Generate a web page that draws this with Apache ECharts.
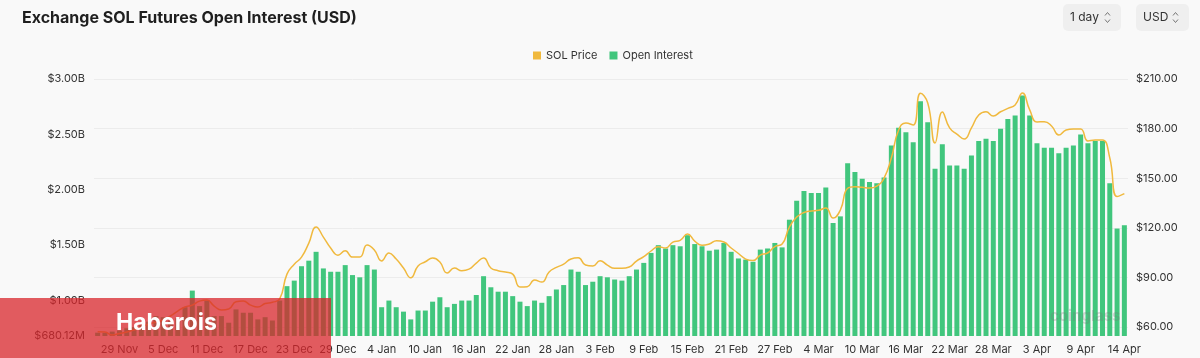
<!DOCTYPE html>
<html><head><meta charset="utf-8">
<script src="https://cdn.jsdelivr.net/npm/echarts@6/dist/echarts.min.js"></script>
<style>html,body{margin:0;padding:0;background:#f9f9f9;}#c{width:1200px;height:358px;}</style>
</head><body><div id="c"></div>
<script>
const categories = [
"26 Nov","27 Nov","28 Nov","29 Nov","30 Nov",
"1 Dec","2 Dec","3 Dec","4 Dec","5 Dec","6 Dec","7 Dec","8 Dec","9 Dec","10 Dec","11 Dec","12 Dec","13 Dec","14 Dec","15 Dec","16 Dec","17 Dec","18 Dec","19 Dec","20 Dec","21 Dec","22 Dec","23 Dec","24 Dec","25 Dec","26 Dec","27 Dec","28 Dec","29 Dec","30 Dec","31 Dec",
"1 Jan","2 Jan","3 Jan","4 Jan","5 Jan","6 Jan","7 Jan","8 Jan","9 Jan","10 Jan","11 Jan","12 Jan","13 Jan","14 Jan","15 Jan","16 Jan","17 Jan","18 Jan","19 Jan","20 Jan","21 Jan","22 Jan","23 Jan","24 Jan","25 Jan","26 Jan","27 Jan","28 Jan","29 Jan","30 Jan","31 Jan",
"1 Feb","2 Feb","3 Feb","4 Feb","5 Feb","6 Feb","7 Feb","8 Feb","9 Feb","10 Feb","11 Feb","12 Feb","13 Feb","14 Feb","15 Feb","16 Feb","17 Feb","18 Feb","19 Feb","20 Feb","21 Feb","22 Feb","23 Feb","24 Feb","25 Feb","26 Feb","27 Feb","28 Feb","29 Feb",
"1 Mar","2 Mar","3 Mar","4 Mar","5 Mar","6 Mar","7 Mar","8 Mar","9 Mar","10 Mar","11 Mar","12 Mar","13 Mar","14 Mar","15 Mar","16 Mar","17 Mar","18 Mar","19 Mar","20 Mar","21 Mar","22 Mar","23 Mar","24 Mar","25 Mar","26 Mar","27 Mar","28 Mar","29 Mar","30 Mar","31 Mar",
"1 Apr","2 Apr","3 Apr","4 Apr","5 Apr","6 Apr","7 Apr","8 Apr","9 Apr","10 Apr","11 Apr","12 Apr","13 Apr","14 Apr","14 Apr"
];
// Open interest, USD billions
const openInterest = [
0.71,0.71,0.72,0.73,0.75,0.76,0.78,0.81,0.86,0.85,0.82,0.84,0.94,1.09,0.95,1.00,0.86,0.86,0.80,0.92,0.89,0.89,0.83,0.85,0.82,1.00,
1.13,1.18,1.31,1.36,1.44,1.29,1.26,1.26,1.32,1.23,1.21,1.32,1.28,0.94,1.00,0.94,0.90,0.83,0.91,0.91,0.99,1.03,0.94,0.97,1.00,1.00,
1.05,1.22,1.12,1.08,1.08,1.04,0.99,0.95,1.00,0.98,1.04,1.10,1.14,1.28,1.26,1.14,1.17,1.22,1.21,1.19,1.18,1.22,1.28,1.34,1.43,1.50,
1.47,1.50,1.49,1.59,1.51,1.49,1.45,1.46,1.52,1.44,1.38,1.37,1.35,1.46,1.47,1.52,1.48,1.73,1.90,1.99,1.97,1.97,2.02,1.70,1.76,2.24,
2.16,2.10,2.07,2.06,2.11,2.40,2.56,2.52,2.43,2.80,2.61,2.19,2.41,2.22,2.22,2.19,2.31,2.44,2.46,2.44,2.55,2.64,2.67,2.85,2.67,2.42,
2.38,2.38,2.33,2.38,2.40,2.50,2.42,2.44,2.44,2.06,1.65,1.68
];
// SOL price, USD
const solPrice = [
57.2,57.0,55.2,56.1,57.0,58.2,60.0,61.8,63.0,64.2,66.7,69.7,72.1,73.3,75.7,76.3,72.7,70.3,70.9,75.3,75.7,73.3,72.1,74.2,75.0,77.0,
92.0,98.0,102.3,110.8,120.5,114.4,107.8,103.5,106.1,102.3,102.3,109.6,106.6,100.0,104.8,101.1,95.7,89.8,96.9,99.5,101.7,99.3,92.7,95.7,94.1,95.0,
98.7,101.7,95.7,94.1,93.3,92.0,84.2,84.4,88.4,87.2,93.3,96.1,98.0,101.2,101.9,97.5,96.9,100.1,97.5,95.5,95.5,96.3,99.9,102.6,106.0,108.6,
107.8,111.4,112.4,116.3,112.0,109.4,110.2,112.2,111.4,107.8,104.5,101.1,100.2,103.5,104.8,108.7,110.2,120.5,126.5,129.3,130.2,130.6,132.0,125.9,130.8,143.9,
144.9,144.5,144.1,145.3,150.1,162.2,179.2,183.4,182.2,201.4,195.5,171.3,190.0,180.4,176.7,173.7,180.4,188.2,190.2,187.6,190.2,192.2,194.3,201.5,191.3,184.0,
184.2,181.6,176.1,179.2,179.8,179.8,172.5,173.1,173.1,162.2,138.9,140.7
];
const oiTicks = [0.68012, 1.0, 1.5, 2.0, 2.5, 3.0];
const priceTicks = [60, 90, 120, 150, 180, 210];

const FONT = 'Inter, "Noto Sans", sans-serif';
const chart = echarts.init(document.getElementById('c'), null, {renderer: 'canvas'});
function chevron(x, y) {
  return [
    {type: 'polyline', shape: {points: [[x, y + 3], [x + 2.5, y], [x + 5, y + 3]]}, style: {stroke: '#777', lineWidth: 1, fill: null}, z: 10},
    {type: 'polyline', shape: {points: [[x, y + 7], [x + 2.5, y + 10], [x + 5, y + 7]]}, style: {stroke: '#777', lineWidth: 1, fill: null}, z: 10}
  ];
}
chart.setOption({
  backgroundColor: '#f9f9f9',
  animation: false,
  textStyle: {fontFamily: FONT},
  title: {
    text: 'Exchange SOL Futures Open Interest (USD)',
    left: 17, top: 5,
    textStyle: {fontSize: 16, fontWeight: 'bold', color: '#1f1f1f', fontFamily: FONT}
  },
  legend: {
    data: ['SOL Price', 'Open Interest'],
    top: 45, left: 528,
    icon: 'rect', itemWidth: 8, itemHeight: 8, itemGap: 12,
    textStyle: {fontSize: 11, color: '#333', fontFamily: FONT}
  },
  grid: {left: 94, right: 72, top: 79, bottom: 22, containLabel: false},
  xAxis: {
    type: 'category',
    data: categories,
    boundaryGap: true,
    axisLine: {show: false},
    axisTick: {show: false},
    axisLabel: {
      interval: function (i) { return i % 6 === 3; },
      fontSize: 11, color: '#333', margin: 8, fontFamily: FONT
    },
    splitLine: {show: false}
  },
  yAxis: [
    {
      type: 'value', position: 'left',
      min: 0.68012, max: 3.0,
      axisLine: {show: false},
      axisTick: {show: false, customValues: oiTicks},
      splitLine: {show: false},
      axisLabel: {
        customValues: oiTicks,
        fontSize: 11, color: '#333', margin: 9, fontFamily: FONT,
        formatter: function (v) {
          return v < 1 ? '$' + (v * 1000).toFixed(2) + 'M' : '$' + v.toFixed(2) + 'B';
        }
      }
    },
    {
      type: 'value', position: 'right',
      min: 54.6, max: 210,
      axisLine: {show: false},
      axisTick: {show: false, customValues: priceTicks},
      splitLine: {show: true, lineStyle: {color: '#ececec', width: 1}},
      axisLabel: {
        customValues: priceTicks,
        fontSize: 11, color: '#333', margin: 8, fontFamily: FONT,
        formatter: function (v) { return '$' + v.toFixed(2); }
      }
    }
  ],
  series: [
    {
      name: 'SOL Price', type: 'line', yAxisIndex: 1,
      data: solPrice, smooth: true, showSymbol: false, symbol: 'none',
      lineStyle: {color: '#f0b93e', width: 1.5},
      itemStyle: {color: '#f0b93e'},
      z: 5
    },
    {
      name: 'Open Interest', type: 'bar', yAxisIndex: 0,
      data: openInterest, barWidth: 5,
      itemStyle: {color: '#41c67d'},
      z: 2
    }
  ],
  graphic: [
    {type: 'rect', shape: {x: 1063, y: 4, width: 58, height: 27, r: 5}, style: {fill: '#efefef'}, z: 5},
    {type: 'text', style: {x: 1070, y: 17.5, text: '1 day', fill: '#333', font: '12px ' + FONT, verticalAlign: 'middle'}, z: 10},
    ...chevron(1105, 12.5),
    {type: 'rect', shape: {x: 1136, y: 4, width: 53, height: 27, r: 5}, style: {fill: '#efefef'}, z: 5},
    {type: 'text', style: {x: 1143, y: 17.5, text: 'USD', fill: '#333', font: '12px ' + FONT, verticalAlign: 'middle'}, z: 10},
    ...chevron(1173, 12.5),
    {type: 'text', style: {x: 1050, y: 316, text: 'coinglass', fill: 'rgba(120,120,120,0.28)', font: 'bold 15px ' + FONT, verticalAlign: 'middle'}, z: 50},
    {type: 'rect', shape: {x: 0, y: 298, width: 331, height: 60}, style: {fill: 'rgba(216,37,43,0.75)'}, z: 100},
    {type: 'text', style: {x: 116, y: 323, text: 'Haberois', fill: '#ffffff', font: 'bold 23px ' + FONT, verticalAlign: 'middle'}, z: 101}
  ]
});
</script></body></html>
